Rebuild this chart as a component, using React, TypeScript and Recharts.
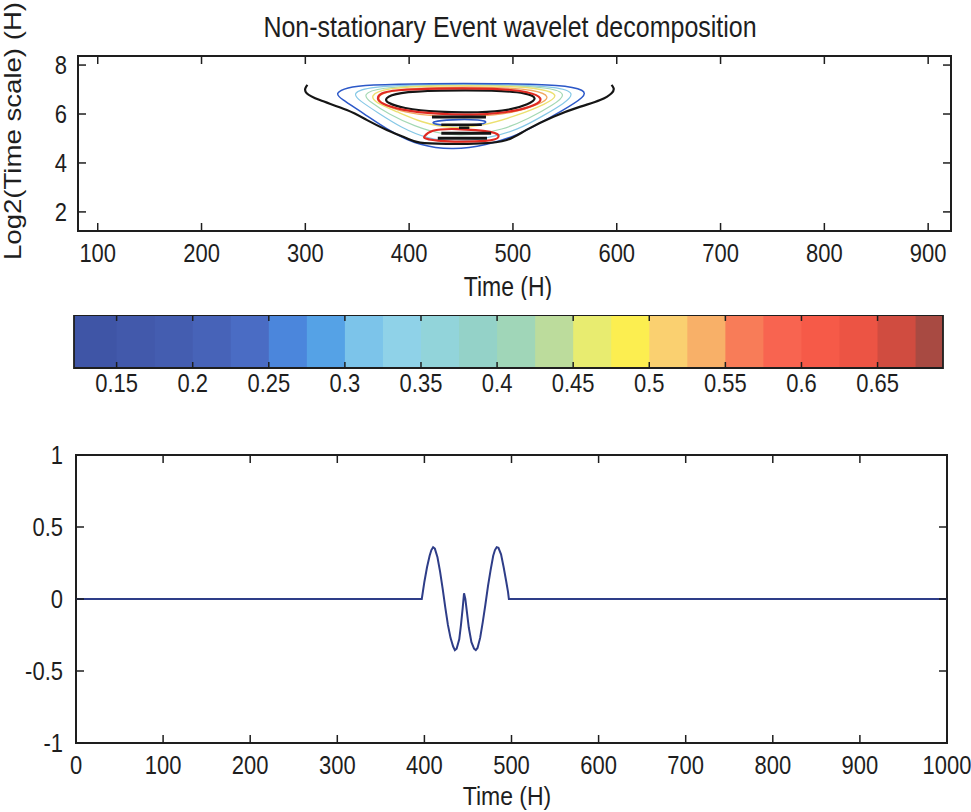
import React from 'react';
import { ComposedChart, LineChart, Line, XAxis, YAxis, ReferenceArea } from 'recharts';

// ---------- data ----------
const topXTicks = [100, 200, 300, 400, 500, 600, 700, 800, 900];
const topYTicks = [2, 4, 6, 8];
const topXDomain = [81, 922];
const topYDomain = [1.22, 8.37];

const blackU = [[302,7.19],[300,7.05],[301.3,6.85],[314,6.57],[340,6.16],[359,5.76],[378.5,5.35],[397.7,5.01],[410.5,4.83],[436,4.78],[468.5,4.8],[494,4.94],[513,5.35],[539,5.89],[565,6.3],[584,6.57],[595,6.85],[597,7.05],[595,7.19]];
const blueOuter = [[328.7,6.85],[340,7.09],[359,7.19],[420,7.25],[484.5,7.25],[548.7,7.19],[569.6,6.98],[569.6,6.71],[548.7,6.16],[519.8,5.48],[500.5,5.07],[474.8,4.73],[442.7,4.53],[410.5,4.69],[381.7,5.28],[356,6.03],[333.5,6.64]];
const cyanLoop = [[345,6.85],[360,7.12],[420,7.22],[485,7.22],[545,7.12],[560,6.85],[550,6.45],[530,5.95],[505,5.35],[475,5.0],[445,4.85],[418,4.98],[392,5.45],[370,6.05],[352,6.55]];
const greenLoop = [[355,6.8],[370,7.08],[425,7.19],[485,7.19],[538,7.08],[552,6.8],[540,6.4],[515,5.8],[490,5.35],[460,5.12],[432,5.15],[405,5.5],[380,6.0],[362,6.5]];
const yellowLoop = [[362,6.75],[376,7.06],[427,7.16],[485,7.16],[530,7.04],[545,6.76],[532,6.42],[505,5.95],[470,5.5],[440,5.4],[412,5.65],[388,6.1],[368,6.45]];
const orangeLoop = [[368,6.7],[380,6.97],[427,7.1],[485,7.1],[522,6.99],[537,6.7],[526,6.4],[500,6.03],[465,5.88],[425,5.9],[395,6.05],[374,6.4]];
const redMain = [[368.9,6.64],[372,6.85],[384.9,6.98],[426.6,7.05],[484.5,7.05],[516.6,6.91],[529.4,6.64],[523,6.37],[500.5,6.09],[468.5,5.96],[426.6,5.99],[391,6.16],[372,6.44]];
const blackInner = [[376,6.64],[388,6.88],[427,6.97],[484,6.97],[514,6.86],[524,6.64],[515,6.4],[498,6.16],[468,6.05],[427,6.07],[393,6.24],[379,6.45]];
const blackBar1 = [[422,5.88],[474,5.88]];
const blueSmall = [[421,5.68],[440,5.78],[470,5.77],[476,5.66],[468,5.56],[440,5.52],[424,5.58]];
const blackBar2 = [[431,5.56],[470,5.56]];
const blackDot = [[448,5.44],[458,5.44]];
const redLower = [[414,5.07],[420.3,5.35],[442.7,5.42],[484.5,5.28],[487.7,5.07],[481.3,4.87],[426.6,4.87],[414,5.01]];
const blackBar3 = [[431,5.21],[479,5.21]];
const blackBar4 = [[427.6,5.01],[475,5.01]];

const cbDomain = [0.122, 0.693];
const cbTicks = [0.15, 0.2, 0.25, 0.3, 0.35, 0.4, 0.45, 0.5, 0.55, 0.6, 0.65];
const cbEdges = [0.122, 0.15, 0.175, 0.2, 0.225, 0.25, 0.275, 0.3, 0.325, 0.35, 0.375, 0.4, 0.425, 0.45, 0.475, 0.5, 0.525, 0.55, 0.575, 0.6, 0.625, 0.65, 0.675, 0.693];
const cbColors = ['#3f55a6','#4259ab','#445db0','#4763b8','#4a6cc4','#4b86dc','#55a2e6','#7cc4ea','#8fd2e8','#92d4da','#94d2c8','#a0d6b8','#bcdc9c','#e8ec70','#fcee50','#fad070','#f8b068','#f87c58','#f86450','#f65a48','#ec5444','#d04c40','#a84a42'];

const sigXTicks = [0, 100, 200, 300, 400, 500, 600, 700, 800, 900, 1000];
const sigYTicks = [-1, -0.5, 0, 0.5, 1];
const sigT = [0, 397, 400, 403, 406, 408, 410, 412, 415, 418, 421, 424, 427, 430, 433, 435, 437, 440, 442, 444, 445.5, 447, 449, 451, 454, 457, 459, 461, 464, 467, 470, 473, 476, 479, 481, 483, 485, 488, 491, 494, 496, 497, 1000];
const sigV = [0, 0, 0.12, 0.22, 0.3, 0.34, 0.36, 0.35, 0.29, 0.19, 0.07, -0.06, -0.18, -0.27, -0.33, -0.355, -0.345, -0.28, -0.18, -0.06, 0.04, 0.0, -0.1, -0.2, -0.3, -0.345, -0.355, -0.34, -0.27, -0.16, -0.04, 0.09, 0.2, 0.3, 0.34, 0.36, 0.355, 0.31, 0.22, 0.12, 0.05, 0, 0];

// ---------- helpers ----------
const FONT = '"Liberation Sans", Arial, Helvetica, sans-serif';
const INK = '#1e1e1e';
const pts = (a: number[][]) => a.map(([x, y]) => ({ x, y }));
const signal = sigT.map((t, i) => ({ x: t, y: sigV[i] }));

function SText({ x, y, anchor = 'middle', size = 22, sy = 1.2, rot = 0, children }: any) {
  const tf = `translate(${x},${y}) scale(1,${sy})` + (rot ? ` rotate(${rot})` : '');
  return (
    <text transform={tf} textAnchor={anchor} dominantBaseline="central" fontSize={size} fontFamily={FONT} fill={INK}>
      {children}
    </text>
  );
}

function FixedText(props: any) {
  return (
    <SText x={props.lx} y={props.ly} size={props.fs || 23} sy={props.sy || 1.2} rot={props.rot || 0}>
      {props.txt}
    </SText>
  );
}

const xTick = (span: number, len: number, gap: number) => (p: any) => (
  <g>
    <line x1={p.x} x2={p.x} y1={p.y} y2={p.y - len} stroke={INK} strokeWidth={1.5} />
    <line x1={p.x} x2={p.x} y1={p.y - span} y2={p.y - span + len} stroke={INK} strokeWidth={1.5} />
    <SText x={p.x} y={p.y + gap}>{String(p.payload.value)}</SText>
  </g>
);

const yTick = (span: number, len: number, gap: number) => (p: any) => (
  <g>
    <line x1={p.x} x2={p.x + len} y1={p.y} y2={p.y} stroke={INK} strokeWidth={1.5} />
    <line x1={p.x + span} x2={p.x + span - len} y1={p.y} y2={p.y} stroke={INK} strokeWidth={1.5} />
    <SText x={p.x - gap} y={p.y} anchor="end">{String(p.payload.value)}</SText>
  </g>
);

const contours = [
  { d: cyanLoop, c: '#86c8e6', w: 1.2, t: 'basisClosed' },
  { d: greenLoop, c: '#a4d8b4', w: 1.2, t: 'basisClosed' },
  { d: yellowLoop, c: '#ece070', w: 1.4, t: 'basisClosed' },
  { d: orangeLoop, c: '#f0a860', w: 1.3, t: 'basisClosed' },
  { d: blueOuter, c: '#2c58c8', w: 1.5, t: 'basisClosed' },
  { d: blackU, c: '#151515', w: 2.2, t: 'natural' },
  { d: blackInner, c: '#151515', w: 2.2, t: 'basisClosed' },
  { d: redMain, c: '#e02a22', w: 2.2, t: 'basisClosed' },
  { d: blueSmall, c: '#2c58c8', w: 1.6, t: 'basisClosed' },
  { d: redLower, c: '#e02a22', w: 2.2, t: 'basisClosed' },
  { d: blackBar1, c: '#151515', w: 3, t: 'linear' },
  { d: blackBar2, c: '#151515', w: 2.5, t: 'linear' },
  { d: blackDot, c: '#151515', w: 2.5, t: 'linear' },
  { d: blackBar3, c: '#151515', w: 3, t: 'linear' },
  { d: blackBar4, c: '#151515', w: 3, t: 'linear' },
];

export default function App() {
  return (
    <div style={{ position: 'absolute', left: 0, top: 0, width: 971, height: 812, background: '#fff' }}>
      <div style={{ position: 'absolute', left: 0, top: 0 }}>
        <ComposedChart width={971} height={300} margin={{ top: 56, right: 20, bottom: 0, left: 0 }}>
          <XAxis dataKey="x" type="number" domain={topXDomain} ticks={topXTicks} allowDataOverflow interval={0}
            height={69} tickLine={false} axisLine={false} tickSize={0} tickMargin={0} tick={xTick(175, 8, 22)}
            label={<FixedText lx={508} ly={286} txt="Time (H)" />} />
          <YAxis type="number" domain={topYDomain} ticks={topYTicks} allowDataOverflow interval={0}
            width={78} tickLine={false} axisLine={false} tickSize={0} tickMargin={0} tick={yTick(873, 8, 11)}
            label={<FixedText lx={13} ly={131} rot={-90} txt="Log2(Time scale) (H)" />} />
          {contours.map((c, i) => (
            <Line key={i} data={pts(c.d)} dataKey="y" type={c.t as any} stroke={c.c} strokeWidth={c.w}
              dot={false} activeDot={false} isAnimationActive={false} />
          ))}
          <ReferenceArea x1={topXDomain[0]} x2={topXDomain[1]} y1={topYDomain[0]} y2={topYDomain[1]}
            fill="none" stroke={INK} strokeWidth={2} ifOverflow="visible"
            label={<FixedText lx={510} ly={27} fs={25} sy={1.15} txt="Non-stationary Event wavelet decomposition" />} />
        </ComposedChart>
      </div>

      <div style={{ position: 'absolute', left: 0, top: 315 }}>
        <ComposedChart width={971} height={100} margin={{ top: 0, right: 28, bottom: 0, left: 74 }}
          data={cbTicks.map((v) => ({ x: v, y: 0.5 }))}>
          <XAxis dataKey="x" type="number" domain={cbDomain} ticks={cbTicks} allowDataOverflow interval={0}
            height={47} tickLine={false} axisLine={false} tickSize={0} tickMargin={0} tick={xTick(53, 6, 15)} />
          <YAxis type="number" domain={[0, 1]} hide />
          {cbColors.map((col, i) => (
            <ReferenceArea key={i} x1={cbEdges[i]} x2={cbEdges[i + 1] + (i < cbColors.length - 1 ? 0.001 : 0)} y1={0} y2={1}
              fill={col} fillOpacity={1} stroke="none" ifOverflow="visible" />
          ))}
          <Line dataKey="y" stroke="none" dot={false} activeDot={false} isAnimationActive={false} />
          <ReferenceArea x1={cbDomain[0]} x2={cbDomain[1]} y1={0} y2={1} fill="none" stroke={INK}
            strokeWidth={1.8} ifOverflow="visible" />
        </ComposedChart>
      </div>

      <div style={{ position: 'absolute', left: 0, top: 420 }}>
        <LineChart width={971} height={392} margin={{ top: 35, right: 24, bottom: 0, left: 0 }} data={signal}>
          <XAxis dataKey="x" type="number" domain={[0, 1000]} ticks={sigXTicks} allowDataOverflow interval={0}
            height={69} tickLine={false} axisLine={false} tickSize={0} tickMargin={0} tick={xTick(288, 8, 22)}
            label={<FixedText lx={507} ly={376} sy={1.1} txt="Time (H)" />} />
          <YAxis type="number" domain={[-1, 1]} ticks={sigYTicks} allowDataOverflow interval={0}
            width={76} tickLine={false} axisLine={false} tickSize={0} tickMargin={0} tick={yTick(871, 8, 13)} />
          <Line dataKey="y" type="linear" stroke="#2e3d88" strokeWidth={2} dot={false} activeDot={false}
            isAnimationActive={false} />
          <ReferenceArea x1={0} x2={1000} y1={-1} y2={1} fill="none" stroke={INK} strokeWidth={2} ifOverflow="visible" />
        </LineChart>
      </div>
    </div>
  );
}
